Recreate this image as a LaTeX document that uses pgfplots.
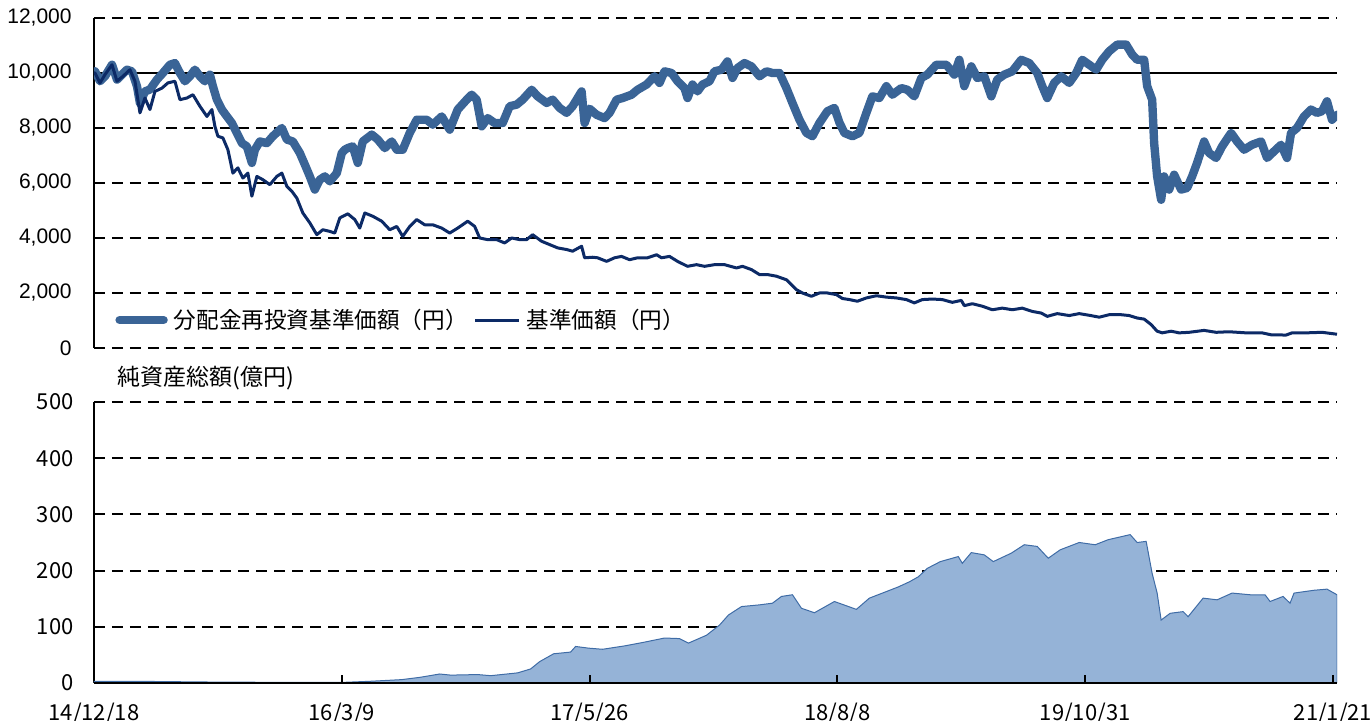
\documentclass[border=0pt]{standalone}
\usepackage{pgfplots}
\pgfplotsset{compat=1.18}
\usepackage{fontspec}
\setmainfont{Liberation Sans}
\newfontfamily\jp{Noto Sans CJK JP}
\definecolor{reinv}{HTML}{3A6496}
\definecolor{navc}{HTML}{0C2A66}
\definecolor{areaf}{HTML}{95B3D7}
\definecolor{areal}{HTML}{3F6CA6}
\begin{document}
\begin{tikzpicture}[x=1pt,y=1pt]
\pgfplotsset{
  gridd/.style={dash pattern=on 5.5pt off 3.5pt, black, line width=1pt},
}
\begin{axis}[
  at={(0pt,167.5pt)}, anchor=south west,
  scale only axis, width=621.5pt, height=165pt,
  xmin=0, xmax=1244, ymin=0, ymax=12000,
  axis x line=none, axis y line*=left,
  axis line style={-, black, line width=1pt},
  ytick={0,2000,4000,6000,8000,12000},
  extra y ticks={10000},
  extra y tick style={major grid style={solid, black, line width=1pt}},
  scaled y ticks=false,
  ymajorgrids, major grid style={gridd},
  major tick length=0pt,
  yticklabel style={font=\fontsize{10.5}{12}\selectfont, anchor=east, inner sep=0pt, xshift=-11pt,
    /pgf/number format/fixed, /pgf/number format/1000 sep={,}},
  /pgf/number format/assume math mode=true,
  /pgf/number format/1000 sep={,},
  legend columns=2,
  legend style={at={(rel axis cs:0.0169,0.0848)}, anchor=west, draw=none, fill=none, inner sep=0pt,
    font=\jp\fontsize{11.3}{14}\selectfont, nodes={inner sep=0pt},
    /tikz/every odd column/.append style={column sep=3pt},
    /tikz/every even column/.append style={column sep=3pt}},
  legend cell align=left,
  legend image code/.code={\draw[#1] (2pt,0pt) -- (24pt,0pt);},
]
\addplot[reinv, line width=4.2pt, line join=round, line cap=round] coordinates {
(0,10000)(1,10060)(6,9700)(11,9880)(18,10300)(23,9760)(28,9940)(33,10120)(38,10060)(43,9520)
(46,8900)(51,9330)(56,9400)(63,9760)(69,10000)(76,10300)(81,10360)(86,10000)(91,9700)(96,9880)
(101,10120)(106,9880)(111,9700)(116,9940)(119,9520)(123,9030)(128,8670)(133,8420)(138,8180)(143,7820)
(148,7450)(153,7330)(158,6730)(161,7210)(166,7510)(173,7450)(179,7700)(188,8000)(193,7580)(199,7510)
(206,7090)(211,6670)(216,6240)(221,5760)(226,6120)(231,6240)(236,6060)(243,6360)(248,7090)(251,7210)
(254,7270)(259,7330)(264,6730)(269,7510)(278,7760)(284,7580)(291,7270)(298,7510)(303,7210)(309,7210)
(316,7820)(323,8300)(333,8300)(339,8120)(348,8420)(356,7940)(364,8670)(373,9030)(378,9210)(383,9030)
(388,8060)(394,8360)(401,8180)(409,8180)(416,8790)(423,8850)(429,9030)(438,9390)(444,9150)(453,8910)
(459,9030)(466,8730)(473,8550)(479,8790)(488,9330)(491,8180)(496,8700)(503,8480)(511,8360)(516,8550)
(523,9030)(529,9090)(538,9210)(544,9390)(553,9580)(561,9880)(566,9640)(571,10060)(578,10000)(584,9700)
(591,9450)(594,9090)(599,9580)(604,9330)(609,9580)(616,9700)(621,10060)(628,10120)(634,10420)(639,9820)
(644,10180)(651,10360)(658,10240)(666,9880)(673,10060)(679,10000)(686,10000)(693,9450)(699,8910)(706,8300)
(713,7820)(719,7700)(726,8180)(734,8610)(741,8730)(746,8200)(751,7820)(759,7700)(766,7820)(773,8550)
(779,9150)(786,9090)(793,9520)(799,9210)(808,9450)(814,9390)(821,9150)(828,9820)(834,9940)(843,10300)
(853,10300)(861,9940)(866,10480)(871,9520)(878,10240)(884,9820)(891,9880)(898,9150)(904,9760)(911,9940)
(919,10060)(928,10480)(936,10360)(944,10000)(949,9520)(954,9090)(961,9640)(968,9880)(976,9640)(983,10000)
(989,10480)(996,10300)(1003,10120)(1009,10480)(1016,10790)(1024,11030)(1033,11030)(1039,10670)(1044,10480)(1051,10480)
(1054,9520)(1059,9030)(1061,7450)(1064,6240)(1068,5390)(1071,6240)(1076,5760)(1081,6300)(1088,5760)(1094,5820)
(1099,6240)(1104,6730)(1111,7510)(1116,7090)(1123,6910)(1129,7330)(1138,7820)(1144,7510)(1151,7210)(1159,7390)
(1168,7510)(1174,6910)(1181,7150)(1188,7390)(1194,6910)(1198,7820)(1204,8000)(1211,8420)(1218,8670)(1224,8550)
(1229,8610)(1234,8970)(1239,8300)(1244,8480)
};
\addlegendentry{分配金再投資基準価額（円）}
\addplot[navc, line width=1.5pt, line join=round] coordinates {
(0,10000)(1,10000)(6,9640)(11,9940)(18,10300)(23,9700)(29,9880)(36,10120)(41,9700)(46,8550)
(51,9090)(56,8670)(61,9330)(68,9450)(74,9640)(81,9700)(86,9030)(93,9090)(99,9210)(106,8790)
(113,8420)(118,8670)(121,8060)(124,7700)(129,7640)(134,7210)(139,6360)(144,6550)(149,6180)(154,6360)
(158,5520)(163,6240)(169,6120)(176,5940)(183,6240)(188,6360)(193,5880)(198,5700)(203,5450)(209,4910)
(216,4550)(223,4120)(229,4300)(236,4240)(241,4180)(246,4730)(254,4880)(261,4670)(266,4360)(271,4910)
(279,4790)(288,4610)(296,4300)(303,4420)(309,4060)(316,4420)(323,4670)(331,4480)(339,4480)(348,4360)
(356,4180)(364,4360)(374,4610)(381,4420)(386,4000)(394,3940)(403,3940)(411,3820)(418,4000)(426,3940)
(433,3940)(439,4120)(448,3880)(456,3760)(464,3640)(473,3580)(479,3520)(488,3700)(491,3280)(499,3300)
(504,3280)(513,3150)(521,3280)(528,3330)(536,3210)(544,3280)(554,3280)(563,3390)(568,3280)(576,3330)
(584,3150)(594,2970)(603,3030)(611,2970)(621,3030)(631,3030)(643,2910)(649,2970)(658,2850)(666,2670)
(674,2670)(683,2610)(693,2480)(703,2120)(709,2000)(718,1880)(726,2000)(734,2000)(743,1940)(749,1800)
(756,1760)(764,1700)(773,1820)(783,1900)(793,1850)(803,1820)(813,1760)(821,1640)(829,1760)(839,1780)
(849,1760)(859,1660)(868,1730)(871,1540)(879,1610)(889,1520)(899,1390)(909,1450)(919,1390)(929,1450)
(939,1330)(948,1270)(954,1150)(964,1250)(976,1180)(986,1250)(996,1190)(1006,1120)(1016,1210)(1028,1210)
(1036,1180)(1044,1090)(1051,1050)(1058,850)(1064,610)(1069,550)(1078,610)(1086,550)(1096,570)(1111,640)
(1123,570)(1136,590)(1153,550)(1169,550)(1178,480)(1193,470)(1199,550)(1213,550)(1229,570)(1244,500)
};
\addlegendentry{基準価額（円）}
\end{axis}

\begin{axis}[
  at={(0pt,0pt)}, anchor=south west,
  scale only axis, width=621.5pt, height=140.5pt,
  xmin=0, xmax=1244, ymin=0, ymax=500,
  axis x line*=bottom, axis y line*=left,
  axis line style={-, black, line width=1pt},
  ytick={0,100,...,500},
  xtick={0,248,496,744,992,1240},
  xticklabels={14/12/18,16/3/9,17/5/26,18/8/8,19/10/31,21/1/21},
  ymajorgrids, major grid style={gridd},
  major tick length=0pt,
  xticklabel style={font=\jp\fontsize{11}{13}\selectfont, anchor=north, inner sep=0pt, yshift=-10pt},
  yticklabel style={font=\jp\fontsize{11}{13}\selectfont, anchor=east, inner sep=0pt, xshift=-10pt},
  /pgf/number format/assume math mode=true,
]
\addplot[fill=areaf, draw=areal, line width=0.5pt] coordinates {
(0,3)(40,3)(129,1.5)(218,1)(248,1)(276,3)(308,6)(326,10)(346,16)(357,14)
(384,15)(397,13)(424,18)(437,25)(446,38)(460,52)(477,55)(482,65)(495,62)(509,60)
(531,66)(549,72)(571,80)(586,79)(595,71)(613,85)(626,103)(635,121)(648,136)(666,139)
(679,142)(688,154)(699,157)(708,133)(721,125)(741,145)(763,131)(776,151)(792,162)(805,171)
(816,180)(825,189)(834,204)(847,216)(865,225)(869,213)(878,232)(891,228)(900,216)(918,231)
(931,246)(944,243)(955,222)(967,237)(986,250)(1002,246)(1015,255)(1037,264)(1044,250)(1053,252)
(1059,195)(1064,160)(1068,112)(1077,124)(1090,127)(1095,118)(1110,151)(1124,148)(1139,160)(1157,157)
(1172,157)(1177,145)(1190,154)(1197,142)(1201,160)(1221,165)(1234,167)(1244,157)
} \closedcycle;
\draw[black, line width=1pt] (axis cs:0,0) -- (axis cs:1244,0);
\pgfplotsinvokeforeach{248,496,744,992,1240}{
  \draw[black, line width=1pt] (axis cs:#1,0) -- ++(0pt,4pt);
}
\end{axis}
\node[anchor=west, inner sep=0pt, font=\jp\fontsize{11.5}{13}\selectfont] at (11.5pt,152.5pt) {純資産総額(億円)};
\pgfresetboundingbox
\path[use as bounding box] (-47pt,-19pt) rectangle (639pt,341.5pt);
\end{tikzpicture}
\end{document}
